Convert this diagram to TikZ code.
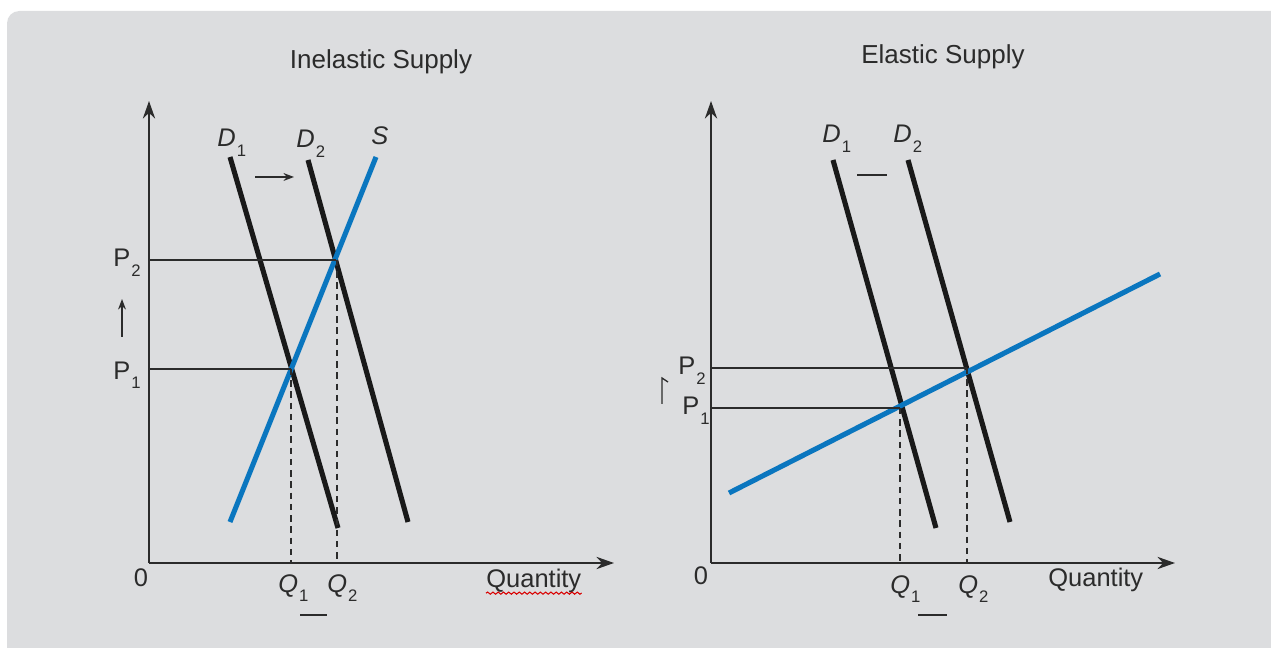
\documentclass[tikz,border=0pt]{standalone}
\usepackage{fontspec}
\setmainfont{Liberation Sans}
\usetikzlibrary{arrows.meta,positioning,decorations.pathmorphing}
\definecolor{panelgray}{HTML}{DCDDDF}
\definecolor{supplyblue}{HTML}{0A76BF}
\definecolor{inkgray}{HTML}{2B2B2B}
\newcommand{\lowsub}[1]{\kern0.6pt\raisebox{-5.5pt}{\fontsize{9.5}{10}\selectfont\upshape #1}}

\begin{document}
\begin{tikzpicture}[x=0.02cm, y=-0.02cm,
    axis/.style={draw=inkgray, line width=1.1pt, -{Stealth[length=10pt, width=7pt]}},
    demand/.style={draw=black!90, line width=2.9pt},
    supply/.style={draw=supplyblue, line width=2.9pt},
    guide/.style={draw=inkgray, line width=0.75pt},
    drop/.style={guide, dash pattern=on 3.6pt off 2.8pt},
    moveArrow/.style={draw=inkgray, line width=0.8pt, -{Stealth[length=6pt, width=4.5pt]}},
    lbl/.style={font=\fontsize{14.5}{17}\selectfont, text=inkgray, inner sep=0pt},
    curvelbl/.style={lbl, font=\fontsize{14.5}{17}\selectfont\itshape},
    title/.style={font=\fontsize{14.8}{17}\selectfont, text=inkgray, inner sep=0pt}
  ]
    \path[use as bounding box, clip] (0,0) rectangle (1271,648);
    \fill[panelgray, rounded corners=7pt] (7,11) rectangle (1300,680);

    % inelastic supply
    \node[title, anchor=base] (titleL) at (381,69) {Inelastic Supply};
    \coordinate (oL) at (149,563);
    \coordinate (yL) at (149,101);
    \coordinate (xL) at (614,563);
    \draw[axis] (oL) -- (yL);
    \draw[axis] (oL) -- (xL);
    \node[lbl] (zeroL) at (141,578) {0};

    \coordinate (d1Ltop) at (230,157);
    \coordinate (d1Lbot) at (338,528);
    \coordinate (d2Ltop) at (308,160);
    \coordinate (d2Lbot) at (408,522);
    \coordinate (sLbot) at (230,522);
    \coordinate (sLtop) at (376,157);
    \coordinate (e1L) at (291,369);
    \coordinate (e2L) at (336,260);
    \draw[demand] (d1Ltop) -- (d1Lbot);
    \draw[demand] (d2Ltop) -- (d2Lbot);
    \draw[supply] (sLbot) -- (sLtop);

    \draw[guide] (149,260) coordinate (p2L) -- (e2L);
    \draw[guide] (149,369) coordinate (p1L) -- (e1L);
    \draw[drop] (e1L) -- (291,563) coordinate (q1L);
    \draw[drop] (337,260) -- (337,563) coordinate (q2L);

    \node[lbl, anchor=base west] (p2Llbl) at (113,267) {P\lowsub{2}};
    \node[lbl, anchor=base west] (p1Llbl) at (113,379) {P\lowsub{1}};
    \coordinate (upLa) at (122,337);
    \coordinate (upLb) at (122,299);
    \draw[moveArrow] (upLa) -- (upLb);

    \node[curvelbl, anchor=base west] (d1Llbl) at (217,147) {D\lowsub{1}};
    \node[curvelbl, anchor=base west] (d2Llbl) at (296,148) {D\lowsub{2}};
    \node[curvelbl, anchor=base west] (sLlbl) at (371,145) {S};
    \coordinate (shLa) at (255,177);
    \coordinate (shLb) at (294,177);
    \draw[moveArrow] (shLa) -- (shLb);

    \node[curvelbl, anchor=base west] (q1Llbl) at (278,592) {Q\lowsub{1}};
    \node[curvelbl, anchor=base west] (q2Llbl) at (327,592) {Q\lowsub{2}};
    \draw[guide] (300,615) coordinate (barLa) -- (327,615) coordinate (barLb);
    \node[lbl, anchor=base west] (qtyL) at (486,587) {Quantity};
    \draw[red!85!black, line width=0.6pt, decorate,
      decoration={snake, amplitude=0.6pt, segment length=3pt}]
      ([yshift=-3.5pt]qtyL.base west) -- ([yshift=-3.5pt]qtyL.base east);

    % elastic supply
    \node[title, anchor=base] (titleR) at (943,64) {Elastic Supply};
    \coordinate (oR) at (711,563);
    \coordinate (yR) at (711,101);
    \coordinate (xR) at (1175,563);
    \draw[axis] (oR) -- (yR);
    \draw[axis] (oR) -- (xR);
    \node[lbl] (zeroR) at (701,576) {0};

    \coordinate (d1Rtop) at (833,160);
    \coordinate (d1Rbot) at (936,528);
    \coordinate (d2Rtop) at (908,160);
    \coordinate (d2Rbot) at (1010,522);
    \coordinate (sRbot) at (729,493);
    \coordinate (sRtop) at (1160,274);
    \coordinate (e1R) at (900,408);
    \coordinate (e2R) at (967,368);
    \draw[demand] (d1Rtop) -- (d1Rbot);
    \draw[demand] (d2Rtop) -- (d2Rbot);
    \draw[supply] (sRbot) -- (sRtop);

    \draw[guide] (711,368) coordinate (p2R) -- (e2R);
    \draw[guide] (711,408) coordinate (p1R) -- (e1R);
    \draw[drop] (e1R) -- (900,563) coordinate (q1R);
    \draw[drop] (e2R) -- (967,563) coordinate (q2R);

    \node[lbl, anchor=base west] (p2Rlbl) at (678,375) {P\lowsub{2}};
    \node[lbl, anchor=base west] (p1Rlbl) at (682,415) {P\lowsub{1}};
    \draw[guide] (662,404) coordinate (upRa) -- (662,378) coordinate (upRb) -- (668,382);

    \node[curvelbl, anchor=base west] (d1Rlbl) at (822,143) {D\lowsub{1}};
    \node[curvelbl, anchor=base west] (d2Rlbl) at (893,143) {D\lowsub{2}};
    \draw[guide] (857,175) coordinate (barRtop) -- (887,175);

    \node[curvelbl, anchor=base west] (q1Rlbl) at (890,593) {Q\lowsub{1}};
    \node[curvelbl, anchor=base west] (q2Rlbl) at (958,593) {Q\lowsub{2}};
    \draw[guide] (918,615) coordinate (barRa) -- (947,615) coordinate (barRb);
    \node[lbl, anchor=base west] (qtyR) at (1048,586) {Quantity};
  \end{tikzpicture}
\end{document}
